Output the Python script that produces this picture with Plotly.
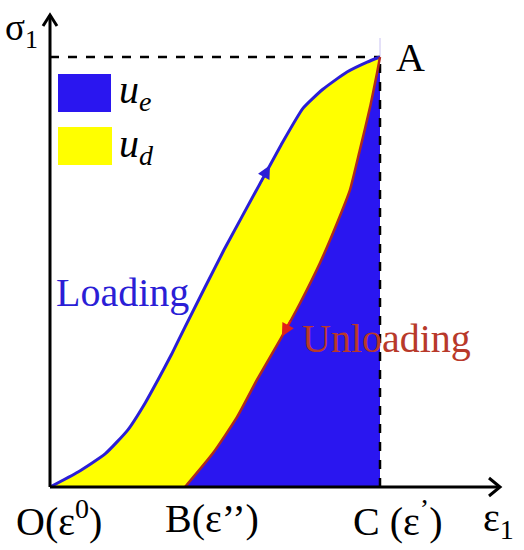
import numpy as np
import plotly.graph_objects as go

# ---------------- data (normalised strain / stress) ----------------
loading_strain = [0.0, 0.085, 0.167, 0.236, 0.288, 0.327, 0.368, 0.409, 0.527, 0.636,
                  0.700, 0.767, 0.827, 0.900, 0.961, 1.0]
loading_stress = [0.0, 0.035, 0.077, 0.133, 0.195, 0.249, 0.308, 0.372, 0.551, 0.705,
                  0.795, 0.881, 0.925, 0.965, 0.988, 1.0]
unloading_strain = [0.409, 0.494, 0.567, 0.627, 0.697, 0.758, 0.818, 0.870, 0.909, 0.939,
                    0.970, 0.991, 1.0]
unloading_stress = [0.0, 0.079, 0.163, 0.249, 0.342, 0.428, 0.521, 0.614, 0.691, 0.784,
                    0.884, 0.963, 1.0]

strain_O, strain_B, strain_C = 0.0, 0.409, 1.0
stress_A = 1.0

bottom_labels = ["O(ε<sup>0</sup>)", "B(ε’’)", "C (ε<sup>’</sup>)"]
legend_labels = ["<i>u</i><sub><i>e</i></sub>", "<i>u</i><sub><i>d</i></sub>"]

# ---------------- styling ----------------
W, H = 524, 550
X0PX, Y0PX, XCPX, YAPX = 50, 487, 380, 57          # pixel placement of O and A
sx = (XCPX - X0PX) / (strain_C - strain_O)
sy = (Y0PX - YAPX) / stress_A
xr = [-X0PX / sx, (W - X0PX) / sx]
yr = [-(H - Y0PX) / sy, Y0PX / sy]

BLUE_FILL = "#2A16F0"
YELLOW = "#FFFF00"
LOAD_COL = "#2B1ED6"
UNLOAD_COL = "#B02A1E"
UNLOAD_TXT = "#B8392A"
FONT = "Liberation Serif"
FS = 40
SM = 0.5

fig = go.Figure()

# yellow: area under loading curve (blue drawn over it below unloading curve)
fig.add_trace(go.Scatter(x=loading_strain, y=loading_stress, fill="tozeroy",
                         fillcolor=YELLOW, mode="lines",
                         line=dict(width=0, shape="spline", smoothing=SM), hoverinfo="skip"))
# blue: area under unloading curve
fig.add_trace(go.Scatter(x=unloading_strain, y=unloading_stress, fill="tozeroy",
                         fillcolor=BLUE_FILL, mode="lines",
                         line=dict(width=0, shape="spline", smoothing=SM), hoverinfo="skip"))

# dashed guide lines
fig.add_trace(go.Scatter(x=[strain_O, strain_C], y=[stress_A, stress_A], mode="lines",
                         line=dict(color="black", width=2.5, dash="dash"), hoverinfo="skip"))
fig.add_trace(go.Scatter(x=[strain_C, strain_C], y=[0, stress_A], mode="lines",
                         line=dict(color="black", width=2.5, dash="dash"), hoverinfo="skip"))
fig.add_trace(go.Scatter(x=[strain_C, strain_C], y=[stress_A, stress_A + 19 / sy], mode="lines",
                         line=dict(color="#C9C2F2", width=1), hoverinfo="skip"))

# curves
fig.add_trace(go.Scatter(x=loading_strain, y=loading_stress, mode="lines",
                         line=dict(color=LOAD_COL, width=3, shape="spline", smoothing=SM),
                         hoverinfo="skip"))
fig.add_trace(go.Scatter(x=unloading_strain, y=unloading_stress, mode="lines",
                         line=dict(color=UNLOAD_COL, width=2.5, shape="spline", smoothing=SM),
                         hoverinfo="skip"))

# axes with open arrowheads
ax_end_x = (500 - X0PX) / sx
ax_end_y = (Y0PX - 15) / sy
hx, hy = 11 / sx, 9 / sy
fig.add_trace(go.Scatter(x=[strain_O, strain_O, None, strain_O, ax_end_x],
                         y=[ax_end_y, 0, None, 0, 0], mode="lines",
                         line=dict(color="black", width=3), hoverinfo="skip"))
fig.add_trace(go.Scatter(x=[ax_end_x - hx, ax_end_x, ax_end_x - hx],
                         y=[9 / sy, 0, -9 / sy], mode="lines",
                         line=dict(color="black", width=3), hoverinfo="skip"))
fig.add_trace(go.Scatter(x=[-7 / sx, 0, 7 / sx],
                         y=[ax_end_y - 11 / sy, ax_end_y, ax_end_y - 11 / sy], mode="lines",
                         line=dict(color="black", width=3), hoverinfo="skip"))


def curve_point(xs, ys, ylev):
    order = np.argsort(ys)
    return float(np.interp(ylev, np.array(ys)[order], np.array(xs)[order]))


# direction arrows along curves
la_y = 0.748
la_x = curve_point(loading_strain, loading_stress, la_y)
lb_x = curve_point(loading_strain, loading_stress, la_y - 0.05)
fig.add_annotation(x=la_x, y=la_y, ax=lb_x, ay=la_y - 0.05, xref="x", yref="y",
                   axref="x", ayref="y", text="", showarrow=True, arrowhead=2,
                   arrowsize=1.3, arrowwidth=2, arrowcolor=LOAD_COL)
ua_y = 0.35
ua_x = curve_point(unloading_strain, unloading_stress, ua_y)
ub_x = curve_point(unloading_strain, unloading_stress, ua_y + 0.04)
fig.add_annotation(x=ua_x, y=ua_y, ax=ub_x, ay=ua_y + 0.04, xref="x", yref="y",
                   axref="x", ayref="y", text="", showarrow=True, arrowhead=2,
                   arrowsize=1.3, arrowwidth=2, arrowcolor="#E0201A")


def P(x, y):
    return x / W, 1 - y / H


def label(text, x, y, size=FS, color="black", anchor="left"):
    px, py = P(x, y)
    fig.add_annotation(x=px, y=py, xref="paper", yref="paper", text=text, showarrow=False,
                       xanchor=anchor, yanchor="middle",
                       font=dict(family=FONT, size=size, color=color))


label("σ<sub>1</sub>", 3, 30, size=37)
label("A", 394, 57)
label("Loading", 54, 292, color=LOAD_COL)
label("Unloading", 300, 338, color=UNLOAD_TXT)
for txt, xp in zip(bottom_labels, [14, 163, 351]):
    label(txt, xp, 518)
label("ε<sub>1</sub>", 481, 520)

# legend squares
fig.add_shape(type="rect", xref="paper", yref="paper", x0=58 / W, x1=111 / W,
              y0=1 - 112 / H, y1=1 - 74 / H, fillcolor=BLUE_FILL, line_width=0)
fig.add_shape(type="rect", xref="paper", yref="paper", x0=58 / W, x1=112 / W,
              y0=1 - 165 / H, y1=1 - 127 / H, fillcolor=YELLOW, line_width=0)
label(legend_labels[0], 117, 92, size=40)
label(legend_labels[1], 117, 146, size=40)

fig.update_layout(width=W, height=H,
                  margin=dict(l=0, r=0, t=0, b=0, pad=0, autoexpand=False),
                  paper_bgcolor="white", plot_bgcolor="white", showlegend=False,
                  xaxis=dict(range=xr, visible=False, fixedrange=True),
                  yaxis=dict(range=yr, visible=False, fixedrange=True))

fig.write_html("out.html", config={"displayModeBar": False},
               post_script="document.body.style.margin='0';document.body.style.overflow='hidden';")
